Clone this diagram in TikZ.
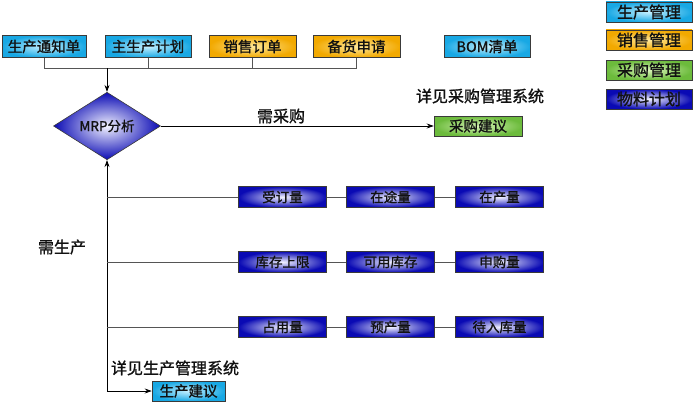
\documentclass[tikz,border=0pt]{standalone}
\usepackage{fontspec}
\setmainfont{Noto Sans CJK SC}[FakeBold=1.3]
\usetikzlibrary{shapes.geometric,arrows.meta}
\definecolor{prodOuter}{HTML}{18A8E4}
\definecolor{prodInner}{HTML}{C4F0FF}
\definecolor{saleOuter}{HTML}{F2A900}
\definecolor{saleInner}{HTML}{FFE89A}
\definecolor{buyOuter}{HTML}{6CBB3C}
\definecolor{buyInner}{HTML}{D8F4B8}
\definecolor{planOuter}{HTML}{0A0AB4}
\definecolor{planInner}{HTML}{F2F2FF}
\definecolor{boxStroke}{HTML}{3A3A3A}
\definecolor{linkGray}{HTML}{555555}
\definecolor{textMain}{HTML}{111111}

\begin{document}
\begin{tikzpicture}[
    x=1pt, y=-1pt,
    font=\fontsize{14.5}{16}\selectfont,
    >={Stealth[length=7pt,width=5pt]},
    baseBox/.style={
        rectangle, draw=boxStroke, line width=0.6pt,
        minimum height=22pt, inner sep=1pt,
        text=textMain
    },
    prodNode/.style={baseBox, inner color=prodInner, outer color=prodOuter},
    saleNode/.style={baseBox, inner color=saleInner, outer color=saleOuter},
    buyNode/.style={baseBox, inner color=buyInner, outer color=buyOuter},
    planNode/.style={baseBox, inner color=planInner, outer color=planOuter,
        minimum width=88pt, minimum height=21pt, font=\fontsize{13.5}{15}\selectfont},
    keyNode/.style={minimum width=86pt, minimum height=20pt, font=\fontsize{16}{18}\selectfont},
    mrpNode/.style={
        diamond, draw=boxStroke, line width=0.6pt,
        inner color=planInner, outer color=planOuter,
        minimum width=107pt, minimum height=64pt, inner sep=0pt,
        text=textMain, font=\fontsize{13.5}{15}\selectfont
    },
    noteText/.style={font=\fontsize{16}{18}\selectfont, text=textMain},
    link/.style={draw=linkGray, line width=0.8pt},
    flow/.style={->, draw=black, line width=0.8pt}
]
\useasboundingbox (0,0) rectangle (695,404);

% inputs along the top
\node[prodNode, minimum width=84pt] (Notice) at (44,46.5) {生产通知单};
\node[prodNode, minimum width=86pt] (Master) at (148,46.5) {主生产计划};
\node[saleNode, minimum width=87pt] (Order) at (252.5,46.5) {销售订单};
\node[saleNode, minimum width=87pt] (Stock) at (356.5,46.5) {备货申请};
\node[prodNode, minimum width=86pt] (Bom) at (487,46.5) {BOM清单};

% legend
\node[prodNode, keyNode] (KeyProd) at (649,12) {生产管理};
\node[saleNode, keyNode] (KeySale) at (649,40) {销售管理};
\node[buyNode, keyNode] (KeyBuy) at (649,70) {采购管理};
\node[planNode, keyNode] (KeyPlan) at (649,99) {物料计划};

% analysis and results
\node[mrpNode] (Mrp) at (107,126) {MRP分析};
\node[buyNode, minimum width=88pt, minimum height=20pt] (BuyAdvice) at (478,126) {采购建议};
\node[prodNode, minimum width=73pt, minimum height=20pt] (ProdAdvice) at (188.5,391) {生产建议};
\node[noteText] (BuyNote) at (480,96) {详见采购管理系统};
\node[noteText] (ProdNote) at (175,368) {详见生产管理系统};
\node[noteText] (NeedBuy) at (281,116) {需采购};
\node[noteText] (NeedProd) at (62,247) {需生产};

% quantity rows
\node[planNode] (Ordered) at (282.5,197) {受订量};
\node[planNode] (Transit) at (390.5,197) {在途量};
\node[planNode] (InProd) at (499.5,197) {在产量};
\node[planNode] (Limit) at (282.5,262) {库存上限};
\node[planNode] (Usable) at (390.5,262) {可用库存};
\node[planNode] (Request) at (499.5,262) {申购量};
\node[planNode] (Occupied) at (282.5,327) {占用量};
\node[planNode] (Expected) at (390.5,327) {预产量};
\node[planNode] (Incoming) at (499.5,327) {待入库量};

\coordinate (Bus) at (107,68);
\draw[link] (Notice.south) |- (Stock.south |- Bus) -- (Stock.south);
\draw[link] (Master.south) -- (Master.south |- Bus);
\draw[link] (Order.south) -- (Order.south |- Bus);
\draw[flow] (Bus) -- (Mrp.north);

\draw[flow] (Mrp.east) -- (BuyAdvice.west);
\draw[flow, <->] (Mrp.south) |- (ProdAdvice.west);

\foreach \a/\b/\c in {Ordered/Transit/InProd, Limit/Usable/Request, Occupied/Expected/Incoming} {
  \draw[link] (Mrp.south |- \a.west) -- (\a.west);
  \draw[link] (\a.east) -- (\b.west);
  \draw[link] (\b.east) -- (\c.west);
}

\end{tikzpicture}
\end{document}
